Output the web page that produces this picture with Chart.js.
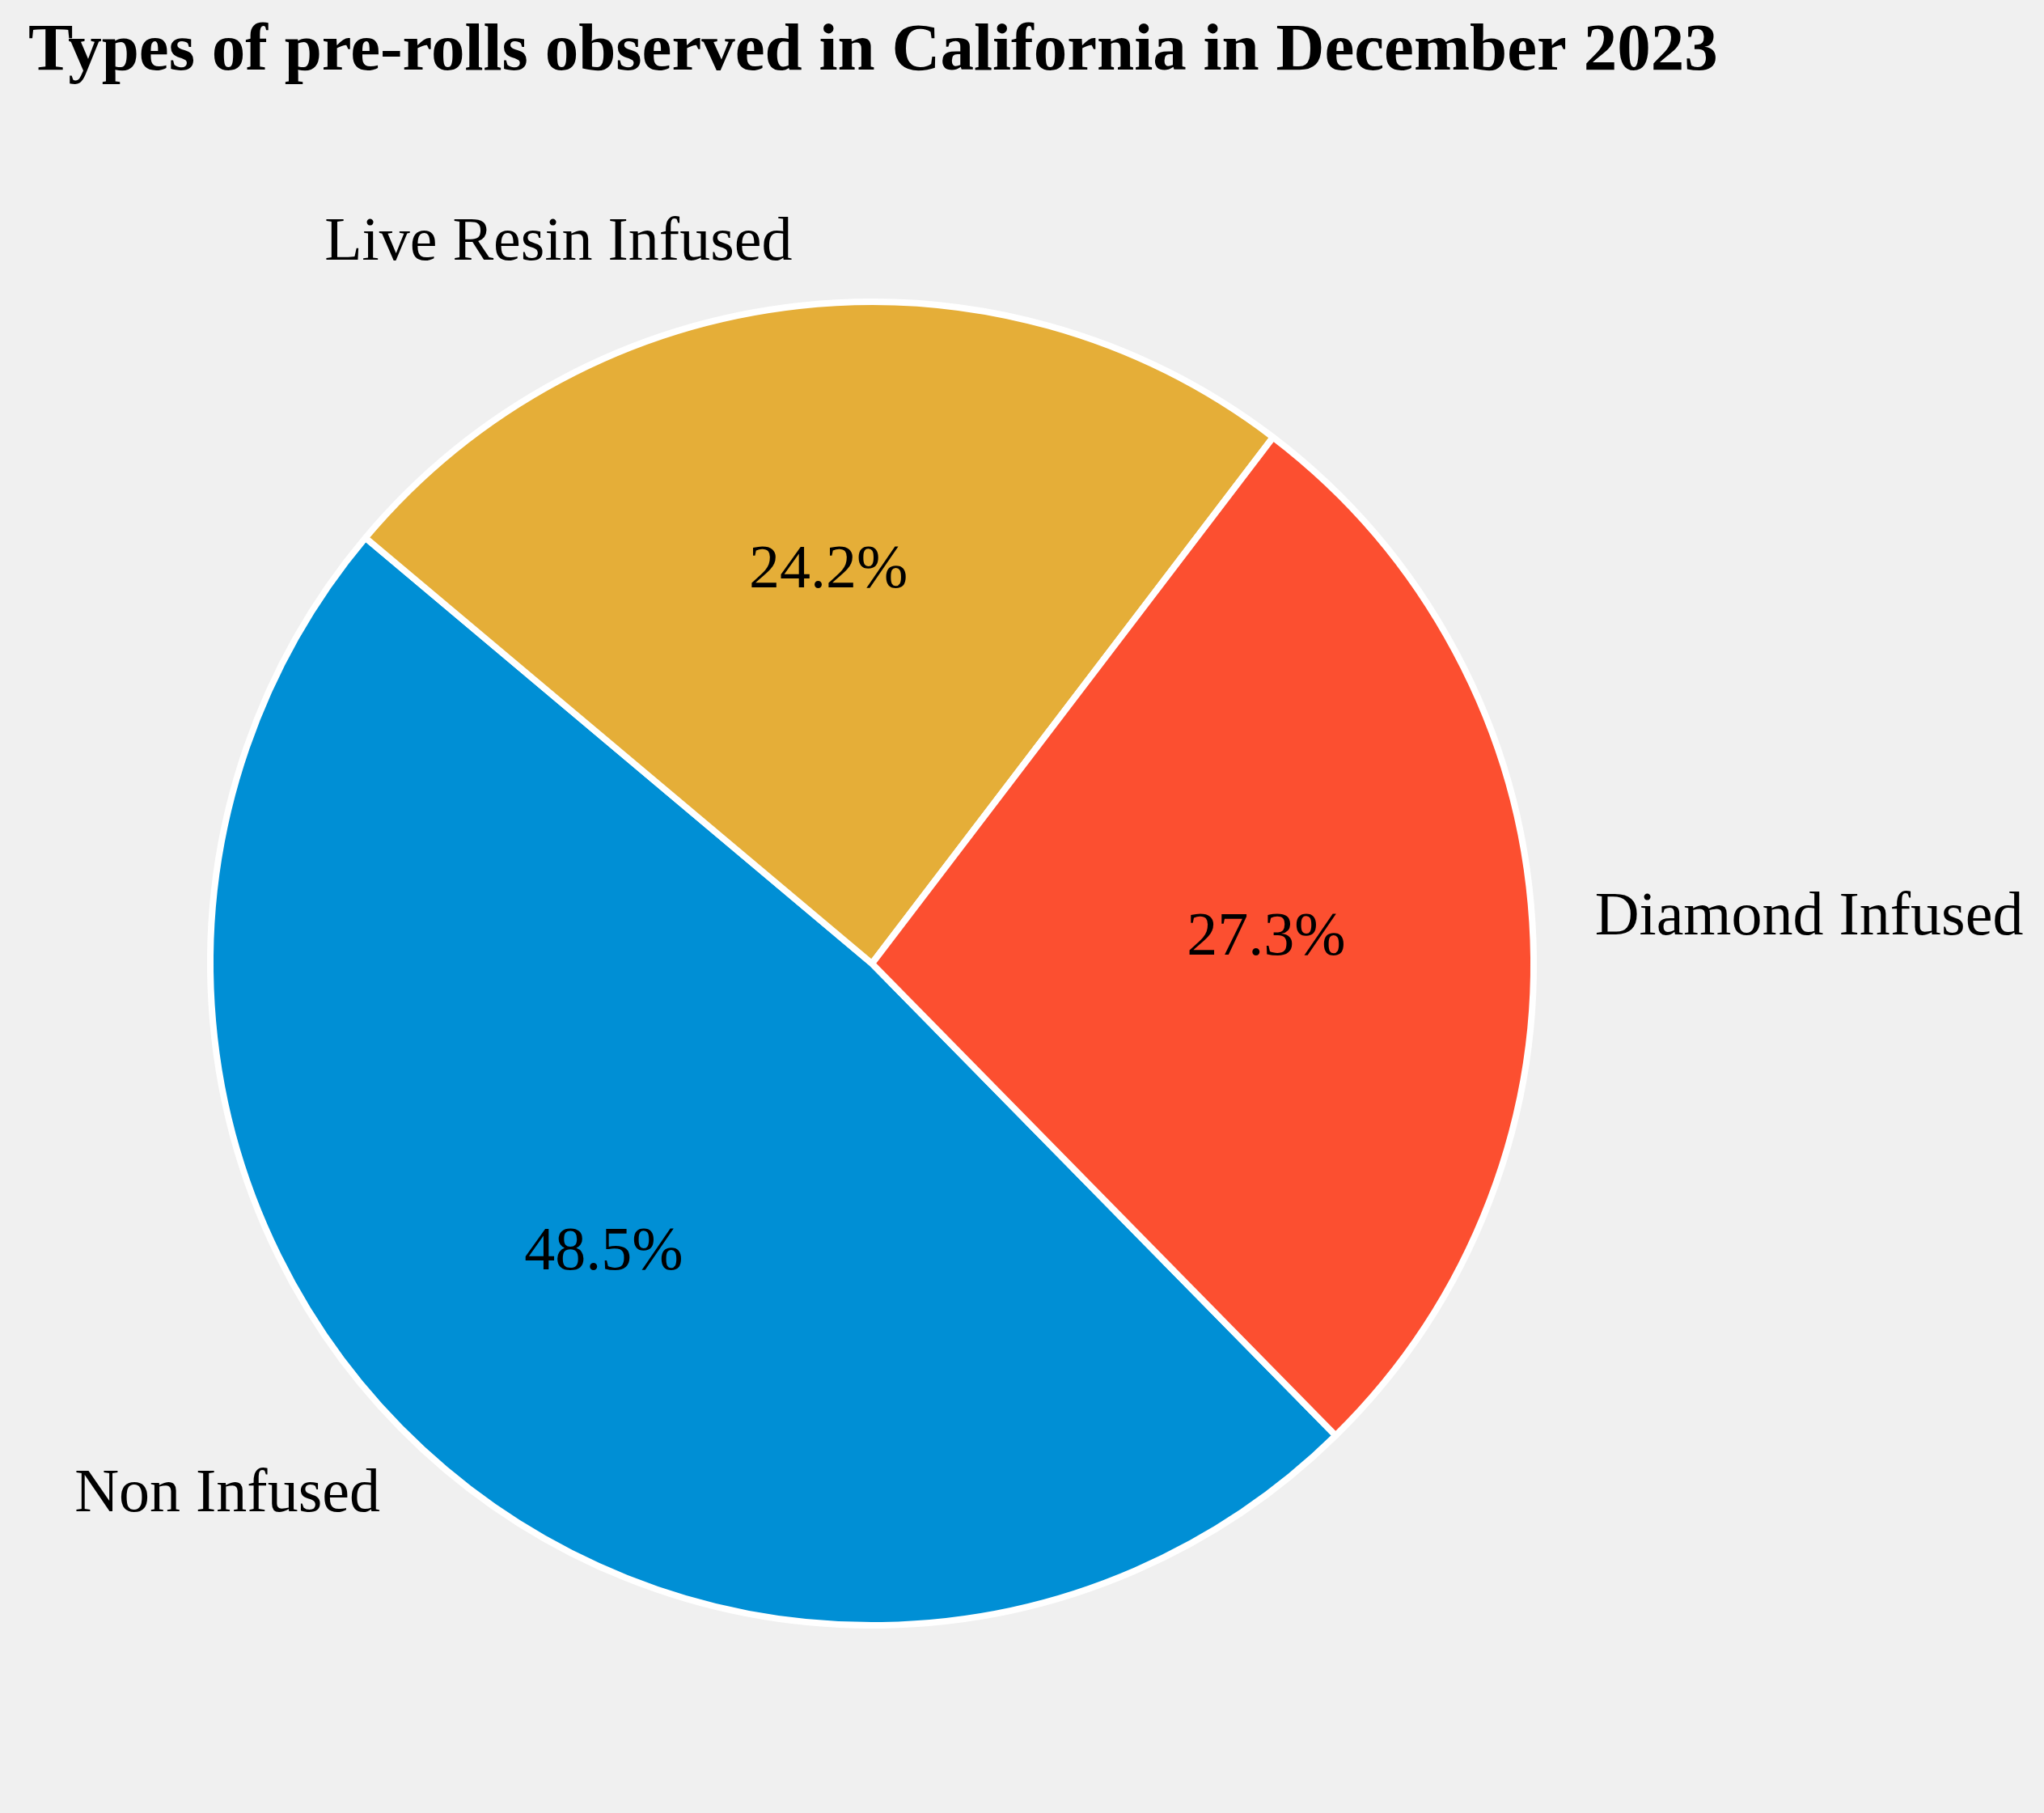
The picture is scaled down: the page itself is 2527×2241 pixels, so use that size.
<!DOCTYPE html>
<html>
<head>
<meta charset="utf-8">
<title>Types of pre-rolls observed in California in December 2023</title>
<script src="https://cdn.jsdelivr.net/npm/chart.js@4.4.1/dist/chart.umd.min.js"></script>
<style>
  html, body { margin: 0; padding: 0; background: #f0f0f0; }
  canvas { display: block; }
</style>
</head>
<body>
<canvas id="pie-chart" width="2527" height="2241"></canvas>
<script>
// data (clockwise order as drawn)
const categories = ['Non Infused', 'Live Resin Infused', 'Diamond Infused'];
const counts = [16, 8, 9];
const sliceColors = ['#008fd5', '#e5ae38', '#fc4f30'];
const chartTitle = 'Types of pre-rolls observed in California in December 2023';

const SERIF = '"Liberation Serif", "Times New Roman", Times, serif';

// draws background, title, outside labels and percentages
const pieText = {
    id: 'pieText',
    beforeDraw(chart) {
        const ctx = chart.ctx;
        ctx.save();
        ctx.fillStyle = '#f0f0f0';
        ctx.fillRect(0, 0, chart.width, chart.height);
        ctx.restore();
    },
    afterDraw(chart) {
        const ctx = chart.ctx;
        const meta = chart.getDatasetMeta(0);
        const values = chart.data.datasets[0].data;
        const total = values.reduce((a, b) => a + b, 0);

        ctx.save();
        ctx.fillStyle = '#000';
        ctx.font = 'bold 83px ' + SERIF;
        ctx.textAlign = 'left';
        ctx.textBaseline = 'alphabetic';
        ctx.fillText(chartTitle, 35, 86);

        ctx.font = '76px ' + SERIF;
        ctx.textBaseline = 'middle';
        meta.data.forEach((arc, i) => {
            const mid = (arc.startAngle + arc.endAngle) / 2;
            const r = 814;
            const cx = arc.x, cy = arc.y;

            // category label at 1.1 r
            const lx = cx + Math.cos(mid) * r * 1.1;
            const ly = cy + Math.sin(mid) * r * 1.1;
            ctx.textAlign = Math.cos(mid) >= 0 ? 'left' : 'right';
            ctx.fillText(categories[i], lx, ly);

            // percentage at 0.6 r
            const px = cx + Math.cos(mid) * r * 0.6;
            const py = cy + Math.sin(mid) * r * 0.6;
            ctx.textAlign = 'center';
            ctx.fillText((values[i] / total * 100).toFixed(1) + '%', px, py);
        });
        ctx.restore();
    }
};

new Chart(document.getElementById('pie-chart'), {
    type: 'pie',
    data: {
        labels: categories,
        datasets: [{
            data: counts,
            backgroundColor: sliceColors,
            borderColor: '#ffffff',
            borderWidth: 8,
            radius: 818,
        }],
    },
    options: {
        responsive: false,
        animation: false,
        rotation: 135.5,
        layout: {
            padding: { left: 214, right: 585, top: 327, bottom: 186 },
        },
        plugins: {
            legend: { display: false },
            tooltip: { enabled: false },
            title: { display: false },
        },
    },
    plugins: [pieText],
});
</script>
</body>
</html>
